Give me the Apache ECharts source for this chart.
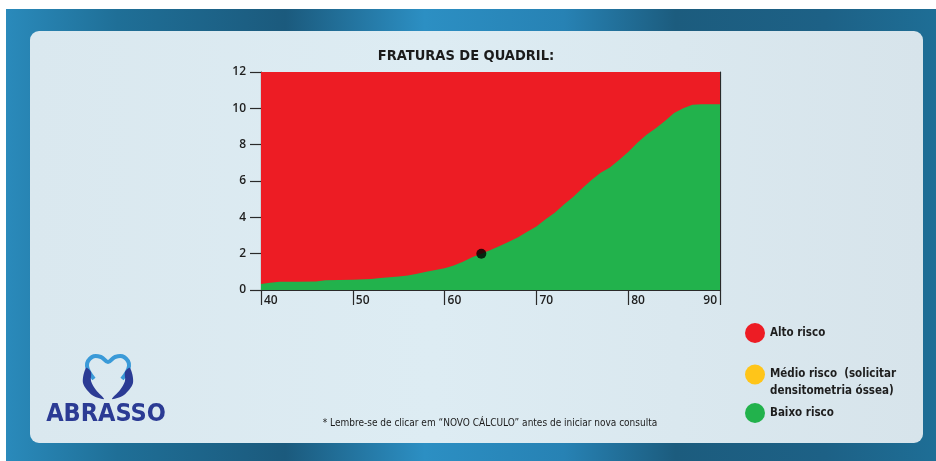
<!DOCTYPE html>
<html>
<head>
<meta charset="utf-8">
<title>Fraturas de quadril</title>
<script src="https://cdn.jsdelivr.net/npm/echarts@6/dist/echarts.min.js"></script>
<style>
html, body { margin: 0; padding: 0; background: #ffffff; }
#chart { width: 936px; height: 461px; }
</style>
</head>
<body>
<div id="chart"></div>
<script>
// idade (eixo x)
var idades = [40, 41, 42, 44, 46, 47, 50, 52, 53, 55, 56, 57, 58, 59, 60, 61, 62, 63, 64, 65,
  66, 67, 68, 69, 70, 71, 72, 73, 74, 75, 76, 77, 78, 79, 80, 81, 82, 83, 84, 85, 86, 87, 88, 90]
// limite superior da faixa de baixo risco (%)
var baixoRisco = [0.33, 0.40, 0.46, 0.46, 0.47, 0.54, 0.56, 0.60, 0.66, 0.75, 0.80, 0.90, 1.00, 1.10,
  1.20, 1.35, 1.55, 1.80, 2.00, 2.20, 2.42, 2.65, 2.90, 3.20, 3.50, 3.90, 4.25, 4.70, 5.12, 5.60,
  6.05, 6.45, 6.75, 7.15, 7.60, 8.10, 8.55, 8.90, 9.30, 9.75, 10.00, 10.20, 10.22, 10.22]
// faixa de alto risco vai até o topo do gráfico
var altoIdades = [40, 90]
var altoRisco = [12, 12]
// ponto do paciente
var paciente = [64.0, 2.0]
var ticksX = [40, 50, 60, 70, 80, 90]

var legendas = ['Alto risco', 'Médio risco  (solicitar\ndensitometria óssea)', 'Baixo risco']

var cores = { alto: '#ed1c24', medio: '#ffc519', baixo: '#22b24c' }
var fonteQuadrada = "'DejaVu Sans Condensed', 'DejaVu Sans', sans-serif"
var fonteEixo = "'Open Sans', 'Liberation Sans', sans-serif"

function pares (xs, ys) {
  return xs.map(function (x, i) { return [x, ys[i]] })
}

var myChart = echarts.init(document.getElementById('chart'))

var textoLegenda = { color: '#1e1e1e', fontSize: 11.5, fontWeight: 'bold', fontFamily: fonteQuadrada, lineHeight: 16 }
var legendaBase = {
  orient: 'vertical',
  left: 745,
  padding: 0,
  icon: 'circle',
  itemWidth: 20,
  itemHeight: 20,
  selectedMode: false,
  textStyle: textoLegenda
}

myChart.setOption({
  animation: false,
  title: {
    text: 'FRATURAS DE QUADRIL:',
    left: 461,
    top: 44,
    textAlign: 'center',
    textStyle: { color: '#1b1b1b', fontSize: 14.5, fontWeight: 'bold', fontFamily: fonteQuadrada }
  },
  graphic: [
    {
      type: 'rect', z: -10, silent: true,
      shape: { x: 6, y: 9, width: 930, height: 452 },
      style: {
        fill: new echarts.graphic.LinearGradient(0, 0, 1, 0, [
          { offset: 0, color: '#2a8abb' },
          { offset: 0.12, color: '#1f6f97' },
          { offset: 0.3, color: '#1b5a7d' },
          { offset: 0.45, color: '#2c8fc3' },
          { offset: 0.6, color: '#2782b4' },
          { offset: 0.72, color: '#1c5c7e' },
          { offset: 0.88, color: '#1d6186' },
          { offset: 1, color: '#1e6e96' }
        ])
      }
    },
    {
      type: 'rect', z: -9, silent: true,
      shape: { x: 30, y: 31, width: 893, height: 412, r: 9 },
      style: {
        fill: new echarts.graphic.LinearGradient(0, 0, 1, 0, [
          { offset: 0, color: '#dae8ef' },
          { offset: 0.45, color: '#ddecf3' },
          { offset: 1, color: '#d7e4eb' }
        ])
      }
    },
    // logo ABRASSO
    {
      type: 'polyline', z: 5, silent: true,
      shape: {
        points: [[94, 379], [87, 366], [92, 357], [101, 357], [108, 362], [115, 357], [124, 357], [129, 366], [122, 379]],
        smooth: 0.4
      },
      style: { fill: null, stroke: '#3a9ad8', lineWidth: 4 }
    },
    {
      type: 'polygon', z: 5, silent: true,
      shape: { points: [[86, 368], [83, 383], [92, 395], [104, 399], [96, 390], [91, 381], [91, 372]], smooth: 0.3 },
      style: { fill: '#2b3b94' }
    },
    {
      type: 'polygon', z: 5, silent: true,
      shape: { points: [[130, 368], [133, 383], [124, 395], [112, 399], [120, 390], [125, 381], [125, 372]], smooth: 0.3 },
      style: { fill: '#2b3b94' }
    },
    {
      type: 'text', z: 5, silent: true,
      x: 106, y: 414,
      style: {
        text: 'ABRASSO', fill: '#2b3b94', fontSize: 25, fontWeight: 'bold',
        fontFamily: fonteQuadrada, align: 'center', verticalAlign: 'middle'
      }
    },
    {
      type: 'text', z: 5, silent: true,
      x: 490, y: 423,
      style: {
        text: '* Lembre-se de clicar em “NOVO CÁLCULO” antes de iniciar nova consulta',
        fill: '#1b1b1b', fontSize: 10,
        fontFamily: "'Liberation Sans Narrow', 'DejaVu Sans Condensed', sans-serif",
        align: 'center', verticalAlign: 'middle'
      }
    }
  ],
  legend: [
    Object.assign({}, legendaBase, { top: 323, data: [legendas[0]] }),
    Object.assign({}, legendaBase, {
      top: 349,
      data: [legendas[1]],
      // primeira linha alinhada com o círculo, segunda logo abaixo
      formatter: function (nome) {
        var linhas = nome.split('\n')
        return '{v| }\n{t|' + linhas[0] + '}\n{t|' + linhas[1] + '}'
      },
      textStyle: Object.assign({}, textoLegenda, {
        rich: {
          v: { height: 17, lineHeight: 17, fontSize: 1 },
          t: { lineHeight: 17, color: '#1e1e1e', fontSize: 11.5, fontWeight: 'bold', fontFamily: fonteQuadrada }
        }
      })
    }),
    Object.assign({}, legendaBase, { top: 403, data: [legendas[2]] })
  ],
  grid: { left: 261, right: 216, top: 72, bottom: 171 },
  xAxis: [
    {
      type: 'value', min: 40, max: 90, interval: 10,
      splitLine: { show: false },
      axisLine: { lineStyle: { color: '#2a2a2a', width: 1.2 } },
      axisTick: { length: 15, lineStyle: { color: '#2a2a2a', width: 1.2 } },
      axisLabel: {
        margin: 5, align: 'left', padding: [0, 0, 0, 3],
        color: '#1e1e1e', fontSize: 12, fontWeight: 600, fontFamily: fonteEixo,
        formatter: function (v) { return v === ticksX[ticksX.length - 1] ? '' : String(v) }
      }
    },
    {
      type: 'value', min: 40, max: 90, interval: 10, position: 'bottom',
      splitLine: { show: false }, axisLine: { show: false }, axisTick: { show: false },
      axisLabel: {
        margin: 5, align: 'right', padding: [0, 3, 0, 0],
        color: '#1e1e1e', fontSize: 12, fontWeight: 600, fontFamily: fonteEixo,
        formatter: function (v) { return v === ticksX[ticksX.length - 1] ? String(v) : '' }
      }
    },
    {
      type: 'value', min: 40, max: 90, position: 'top',
      splitLine: { show: false }, axisTick: { show: false }, axisLabel: { show: false },
      axisLine: { lineStyle: { color: '#2a2a2a', width: 1.2 } }
    }
  ],
  yAxis: [
    {
      type: 'value', min: 0, max: 12, interval: 2,
      splitLine: { show: false },
      axisLine: { show: true, lineStyle: { color: '#2a2a2a', width: 1.2 } },
      axisTick: { show: true, length: 11, lineStyle: { color: '#2a2a2a', width: 1.2 } },
      axisLabel: { margin: 15, color: '#1e1e1e', fontSize: 12, fontWeight: 600, fontFamily: fonteEixo }
    },
    {
      type: 'value', min: 0, max: 12, position: 'right',
      splitLine: { show: false }, axisTick: { show: false }, axisLabel: { show: false },
      axisLine: { show: true, lineStyle: { color: '#2a2a2a', width: 1.2 } }
    }
  ],
  series: [
    {
      name: legendas[0], type: 'line', data: pares(altoIdades, altoRisco),
      symbol: 'none', lineStyle: { width: 0 }, color: cores.alto,
      areaStyle: { color: cores.alto, opacity: 1 }, z: 1
    },
    {
      name: legendas[1], type: 'line', data: [], symbol: 'none', color: cores.medio
    },
    {
      name: legendas[2], type: 'line', data: pares(idades, baixoRisco),
      symbol: 'none', lineStyle: { width: 0 }, color: cores.baixo,
      areaStyle: { color: cores.baixo, opacity: 1 }, z: 2
    },
    {
      name: 'Paciente', type: 'scatter', data: [paciente],
      symbolSize: 10, itemStyle: { color: '#000000' }, z: 5
    }
  ]
})
</script>
</body>
</html>
